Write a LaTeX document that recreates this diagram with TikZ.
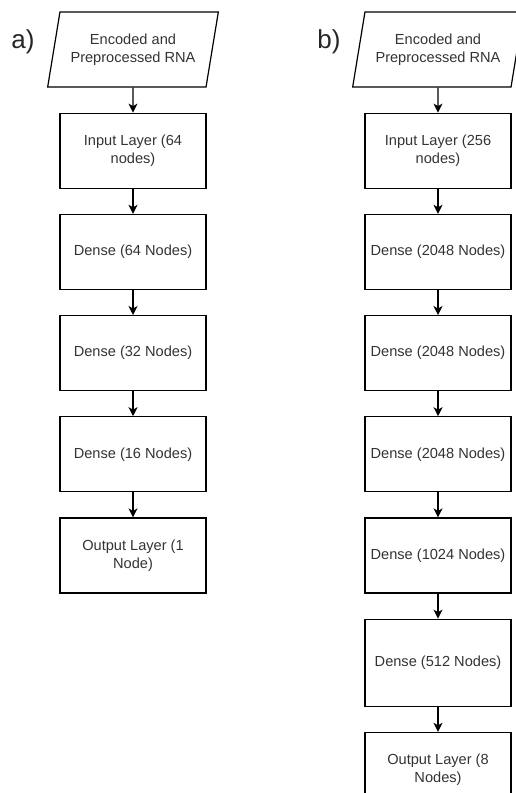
\documentclass[tikz,border=0pt]{standalone}
\usepackage{fontspec}
\setmainfont{Liberation Sans}
\usetikzlibrary{positioning,arrows.meta,shapes.geometric}

\begin{document}
\begin{tikzpicture}[x=1pt,y=-1pt,node distance=25pt,
  txt/.style={text=black!80,font=\fontsize{14.6}{18}\selectfont,align=center},
  layer/.style={txt,draw,line width=1.2pt,minimum width=146pt,minimum height=75pt,inner sep=2pt},
  datain/.style={txt,draw,line width=1.2pt,trapezium,trapezium left angle=71.6,trapezium right angle=108.4,
    trapezium stretches=true,minimum width=171pt,minimum height=75pt,inner sep=0pt},
  flow/.style={-{Stealth[length=9pt,width=9pt,inset=2.5pt]},line width=1.2pt},
  panel/.style={text=black!85,font=\fontsize{26}{30}\selectfont}]
\useasboundingbox (0,0) rectangle (516,793);
\clip (0,0) rectangle (516,793);

% panel a
\node[panel] (pa) at (23,42) {a)};
\node[datain] (a0) at (133,49.5) {Encoded and\\Preprocessed RNA};
\foreach \txt [count=\i, remember=\i as \j (initially 0)] in
  {{Input Layer (64\\nodes)},{Dense (64 Nodes)},{Dense (32 Nodes)},{Dense (16 Nodes)},{Output Layer (1\\Node)}}{
  \node[layer,below=of a\j] (a\i) {\txt};
  \draw[flow] (a\j) -- (a\i);
}

% panel b
\node[panel] (pb) at (329,42) {b)};
\node[datain] (b0) at (438,49.5) {Encoded and\\Preprocessed RNA};
\foreach \txt [count=\i, remember=\i as \j (initially 0)] in
  {{Input Layer (256\\nodes)},{Dense (2048 Nodes)},{Dense (2048 Nodes)},{Dense (2048 Nodes)},{Dense (1024 Nodes)}}{
  \node[layer,below=of b\j] (b\i) {\txt};
  \draw[flow] (b\j) -- (b\i);
}
\node[layer,minimum height=87pt,below=of b5] (b6) {Dense (512 Nodes)};
\node[layer,below=of b6] (b7) {Output Layer (8\\Nodes)};
\draw[flow] (b5) -- (b6);
\draw[flow] (b6) -- (b7);
\end{tikzpicture}
\end{document}
